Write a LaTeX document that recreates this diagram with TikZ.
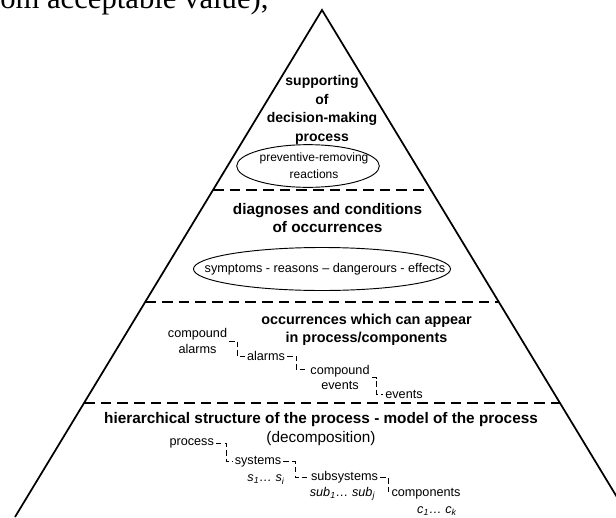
\documentclass[tikz,border=0pt]{standalone}
\usepackage{fontspec}
\setmainfont{Liberation Sans}
\newfontfamily\timesfont{Liberation Serif}
\usetikzlibrary{calc,shapes.geometric}

\begin{document}
\begin{tikzpicture}[
  x=0.75pt, y=-0.75pt,
  edge/.style={line width=1.3pt},
  sep/.style={line width=1.3pt, dash pattern=on 8pt off 4.5pt},
  head/.style={font=\fontsize{11.5}{12.5}\selectfont\bfseries, align=center, inner sep=0pt},
  oval/.style={draw, ellipse, line width=0.7pt, inner sep=0pt},
  lbl/.style={font=\fontsize{9.5}{11.7}\selectfont, align=center, inner sep=1.5pt},
  var/.style={font=\fontsize{9.5}{11}\selectfont\itshape, inner sep=0pt},
  tree/.style={line width=0.6pt, dash pattern=on 4pt off 2.5pt}
]
\useasboundingbox (0,0) rectangle (616,517);
\clip (0,0) rectangle (616,517);

% last line of the text above the figure
\node[font=\timesfont\fontsize{23}{26}\selectfont, anchor=base west, inner sep=0pt]
  (prevline) at (0,8.6) {om acceptable value),};

% pyramid and level borders
\coordinate (top) at (322,10);
\coordinate (bl) at (15,517);
\coordinate (br) at (629,517);
\draw[edge] (bl) -- (top) -- (br);
\foreach \t in {0.355,0.5753,0.7751}
  \draw[sep] ($(top)!\t!(bl)$) -- ($(top)!\t!(br)$);

% level 4
\node[head, font=\fontsize{10.5}{14}\selectfont\bfseries] (support) at (322,110)
  {supporting\\of\\decision-making\\process};
\node[oval, minimum width=107pt, minimum height=32pt] (react) at (308,166) {};
\node[lbl, font=\fontsize{9}{12.5}\selectfont] (reacttxt) at (314,166)
  {preventive-removing\\reactions};

% level 3
\node[head, font=\fontsize{11.5}{14}\selectfont\bfseries] (diag) at (327.5,218)
  {diagnoses and conditions\\of occurrences};
\node[oval, minimum width=192.75pt, minimum height=32.25pt] (sympt) at (322,269) {};
\node[lbl] (symptxt) at (325,269) {symptoms - reasons – dangerours - effects};

% level 2
\node[head, font=\fontsize{10.8}{13.5}\selectfont\bfseries] (occur) at (366.5,329.5)
  {occurrences which can appear\\in process/components};
\node[lbl] (cmpal) at (197.5,341) {compound\\alarms};
\node[lbl] (alarms) at (266,356) {alarms};
\node[lbl] (cmpev) at (340,377.5) {compound\\events};
\node[lbl] (events) at (404,394) {events};
\draw[tree] (cmpal.east) -- ++(8,0) |- (alarms.west);
\draw[tree] (alarms.east) -- ++(9,0) |- ([yshift=6pt]cmpev.west);
\draw[tree] (cmpev.east) -- ++(5,0) |- (events.west);

% level 1
\node[head, font=\fontsize{11.5}{14.5}\selectfont] (hier) at (321,429)
  {\textbf{hierarchical structure of the process - model of the process}\\(decomposition)};
\node[lbl] (process) at (191.7,443) {process};
\node[lbl] (systems) at (258,461.5) {systems};
\node[var] (svar) at (266,479.5) {s\textsubscript{1}… s\textsubscript{i}};
\node[lbl] (subsys) at (344.5,477.5) {subsystems};
\node[var] (subvar) at (342.5,494) {sub\textsubscript{1}… sub\textsubscript{j}};
\node[lbl] (comps) at (426,493.5) {components};
\node[var] (cvar) at (437,511) {c\textsubscript{1}… c\textsubscript{k}};
\draw[tree] (process.east) -- ++(10,0) |- (systems.west);
\draw[tree] (systems.east) -- ++(12,0) |- (subsys.west);
\draw[tree] (subsys.east) -- ++(8,0) |- (comps.west);
\end{tikzpicture}
\end{document}
